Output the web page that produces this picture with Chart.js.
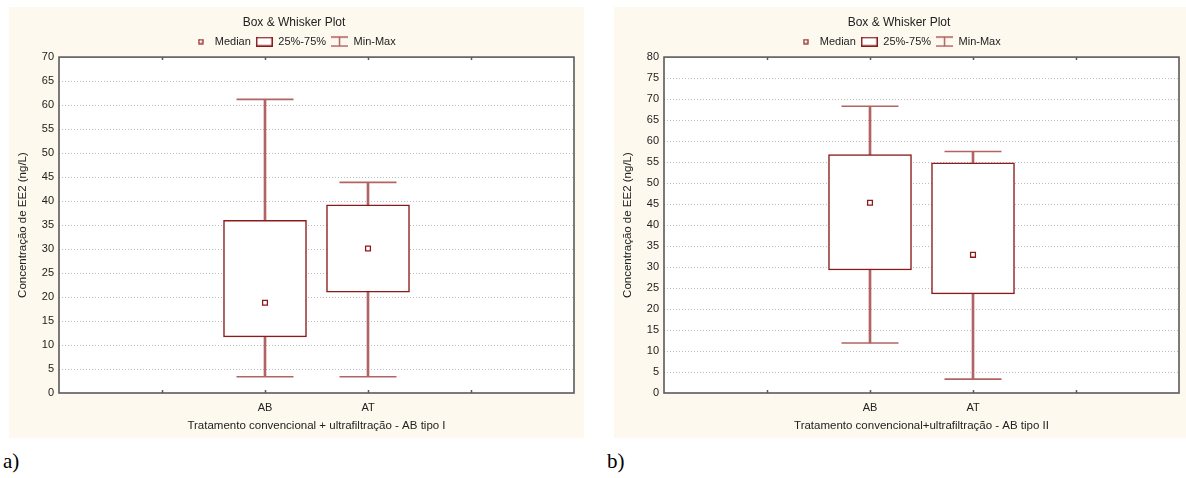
<!DOCTYPE html>
<html><head><meta charset="utf-8">
<script src="https://cdn.jsdelivr.net/npm/chart.js@4.4.1/dist/chart.umd.min.js"></script>
<style>
html,body{margin:0;padding:0;background:#fff;width:1186px;height:478px;overflow:hidden;position:relative;}
.panel{position:absolute;top:7px;height:431px;background:#fdf9ee;overflow:hidden;}
#p1{left:9px;width:575px;}
#p2{left:614px;width:572px;}
canvas{position:absolute;left:0;top:0;}
.lab{position:absolute;font-family:'Liberation Serif','Times New Roman',serif;font-size:21px;line-height:21px;color:#000;}
</style></head><body>
<div class="panel" id="p1"><canvas id="c1" width="576" height="431"></canvas></div>
<div class="panel" id="p2"><canvas id="c2" width="576" height="431"></canvas></div>
<div class="lab" style="left:3px;top:451px">a)</div>
<div class="lab" style="left:607px;top:451px">b)</div>
<script>
// ---- data ----
const categories = ['AB', 'AT'];
const tickLabels = ['', '', 'AB', 'AT', '', ''];
const legendTexts = ['Median', '25%-75%', 'Min-Max'];
const chartTitle = 'Box & Whisker Plot';
const yTitle = 'Concentração de EE2 (ng/L)';

// panel a)
const minA = [3.4, 3.4];
const q1A  = [11.7, 21.0];
const medA = [18.8, 30.1];
const q3A  = [36.0, 39.2];
const maxA = [61.2, 43.9];
const yMaxA = 70;
const xTitleA = 'Tratamento convencional + ultrafiltração - AB tipo I';

// panel b)
const minB = [11.9, 3.3];
const q1B  = [29.3, 23.6];
const medB = [45.3, 32.9];
const q3B  = [56.8, 54.8];
const maxB = [68.3, 57.5];
const yMaxB = 80;
const xTitleB = 'Tratamento convencional+ultrafiltração - AB tipo II';

const yStep = 5;

// ---- styles ----
const boxColor = '#8b1a1a';
const whiskColor = '#b26464';
const textColor = '#222';
Chart.defaults.font.family = "'Liberation Sans', Arial, sans-serif";
Chart.defaults.color = textColor;

function sym(w, h, draw) {
  const c = document.createElement('canvas');
  c.width = w; c.height = h;
  const g = c.getContext('2d');
  draw(g);
  return c;
}
const symbols = [
  sym(6, 6, g => { g.fillStyle = '#fff'; g.fillRect(1,1,4,4); g.strokeStyle = boxColor; g.lineWidth = 1.2; g.strokeRect(1, 1, 4, 4); }),
  sym(17, 10, g => { g.fillStyle = '#fff'; g.fillRect(1,1,15,8); g.strokeStyle = boxColor; g.lineWidth = 1.5; g.strokeRect(0.75, 0.75, 15.5, 8.5); }),
  sym(17, 11, g => { g.strokeStyle = whiskColor; g.lineWidth = 1.5;
    g.beginPath(); g.moveTo(0, 1); g.lineTo(17, 1); g.moveTo(0, 10); g.lineTo(17, 10);
    g.moveTo(8.5, 1); g.lineTo(8.5, 10); g.stroke(); })
];

const plotBg = {
  id: 'plotBg',
  beforeDraw(chart) {
    const {ctx, chartArea: a} = chart;
    ctx.save(); ctx.fillStyle = '#fff';
    ctx.fillRect(a.left, a.top, a.right - a.left, a.bottom - a.top);
    ctx.restore();
  }
};
const frame = {
  id: 'frame',
  afterDraw(chart) {
    const {ctx, chartArea: a} = chart;
    const x = chart.scales.x;
    ctx.save();
    ctx.strokeStyle = '#5a5a5a'; ctx.lineWidth = 1.6;
    ctx.strokeRect(a.left, a.top, a.right - a.left, a.bottom - a.top);
    ctx.lineWidth = 1.5;
    ctx.beginPath();
    for (let i = 1; i < x.ticks.length - 1; i++) {
      const px = Math.round(x.getPixelForTick(i)) + 0.5;
      ctx.moveTo(px, a.bottom); ctx.lineTo(px, a.bottom - 3);
      ctx.moveTo(px, a.top); ctx.lineTo(px, a.top + 3);
    }
    ctx.stroke();
    ctx.restore();
  }
};

function makeChart(id, mins, q1s, meds, q3s, maxs, yMax, xTitle) {
  const pts = arr => categories.map((c, i) => ({x: c, y: arr[i]}));
  const rng = (a, b) => categories.map((c, i) => ({x: c, y: [a[i], b[i]]}));
  return new Chart(document.getElementById(id), {
    type: 'bar',
    data: {
      labels: tickLabels,
      datasets: [
        { type: 'line', label: 'Median', data: pts(meds), showLine: false, order: 0,
          pointStyle: 'rect', pointRadius: 3.4, pointBorderWidth: 1.3,
          pointBackgroundColor: '#fff', pointBorderColor: boxColor },
        { type: 'bar', label: '25%-75%', data: rng(q1s, q3s), order: 1, grouped: false,
          barThickness: 83, backgroundColor: '#fff', borderColor: boxColor, borderWidth: 1.5,
          borderSkipped: false },
        { type: 'line', label: 'Max', data: pts(maxs), showLine: false, order: 2,
          pointStyle: 'line', pointRadius: 28.5, pointBorderWidth: 1.6, pointBorderColor: whiskColor },
        { type: 'line', label: 'Min', data: pts(mins), showLine: false, order: 2,
          pointStyle: 'line', pointRadius: 28.5, pointBorderWidth: 1.6, pointBorderColor: whiskColor },
        { type: 'bar', label: 'Min-Max', data: rng(mins, maxs), order: 3, grouped: false,
          barThickness: 2, backgroundColor: whiskColor, borderWidth: 0 }
      ]
    },
    options: {
      responsive: false, animation: false, events: [], devicePixelRatio: 1,
      layout: { autoPadding: false, padding: { left: 0, right: 6, top: 0, bottom: 0 } },
      plugins: {
        tooltip: { enabled: false },
        title: { display: true, text: chartTitle, color: textColor,
          font: { size: 12, weight: 'normal' }, padding: { top: 8.7, bottom: 1 } },
        legend: {
          display: true, position: 'top', onClick: () => {},
          labels: {
            usePointStyle: true, pointStyleWidth: 17, padding: 5, color: textColor,
            font: { size: 11 },
            generateLabels: () => legendTexts.map((t, i) => ({
              text: t, pointStyle: symbols[i], fillStyle: 'transparent',
              strokeStyle: 'transparent', lineWidth: 0, hidden: false, fontColor: textColor
            }))
          }
        }
      },
      scales: {
        x: {
          type: 'category', offset: false,
          grid: { display: false, offset: false },
          border: { display: false },
          ticks: { autoSkip: false, maxRotation: 0, padding: 0, font: { size: 11 }, color: textColor },
          title: { display: true, text: xTitle, color: textColor, font: { size: 11.5 },
            padding: { top: 0, bottom: 5 } },
          afterFit(s) { s.height = 45; }
        },
        y: {
          type: 'linear', min: 0, max: yMax,
          ticks: { stepSize: yStep, padding: 5, font: { size: 11 }, color: textColor },
          grid: {
            drawTicks: false, lineWidth: 1,
            color: c => (c.tick.value === 0 || c.tick.value === yMax) ? 'rgba(0,0,0,0)' : '#bcbcbc'
          },
          border: { display: false, dash: [1, 2] },
          title: { display: true, text: yTitle, color: textColor, font: { size: 11.5 },
            padding: { top: 7.3, bottom: 0 } },
          afterFit(s) { s.width = 50; }
        },
        y2: {
          type: 'linear', position: 'right', display: true,
          grid: { display: false, drawTicks: false }, border: { display: false },
          ticks: { display: false },
          afterFit(s) { s.width = 5; }
        }
      }
    },
    plugins: [plotBg, frame]
  });
}

makeChart('c1', minA, q1A, medA, q3A, maxA, yMaxA, xTitleA);
makeChart('c2', minB, q1B, medB, q3B, maxB, yMaxB, xTitleB);
</script>
</body></html>
